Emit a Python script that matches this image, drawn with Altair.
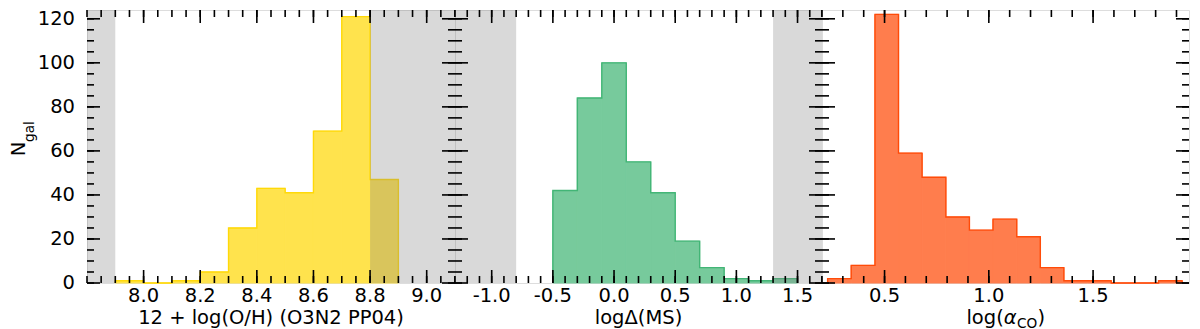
import altair as alt
import numpy as np
import pandas as pd

# ---------------- data ----------------
oh_edges = [7.9, 8.0, 8.1, 8.2, 8.3, 8.4, 8.5, 8.6, 8.7, 8.8, 8.9]
oh_counts = [1, 0, 1, 5, 25, 43, 41, 69, 121, 47]
oh_domain = [7.8, 9.1]
oh_shade_lo = [7.8, 8.8]
oh_shade_hi = [7.9, 9.1]
oh_major = [8.0, 8.2, 8.4, 8.6, 8.8, 9.0]
oh_minor_step = 0.05
oh_title = "12 + log(O/H) (O3N2 PP04)"

ms_edges = [-0.5, -0.3, -0.1, 0.1, 0.3, 0.5, 0.7, 0.9, 1.1, 1.3, 1.5]
ms_counts = [42, 84, 100, 55, 41, 19, 7, 2, 1, 2]
ms_domain = [-1.3, 1.7]
ms_shade_lo = [-1.3, 1.3]
ms_shade_hi = [-0.8, 1.7]
ms_major = [-1.0, -0.5, 0.0, 0.5, 1.0, 1.5]
ms_minor_step = 0.1
ms_title = "logΔ(MS)"

aco_edges = [0.227, 0.340, 0.454, 0.567, 0.680, 0.794, 0.907, 1.020,
             1.134, 1.247, 1.360, 1.474, 1.587, 1.700, 1.814, 1.927]
aco_counts = [2, 8, 122, 59, 48, 30, 24, 29, 21, 7, 1, 1, 0, 0, 1]
aco_domain = [0.2, 1.96]
aco_major = [0.5, 1.0, 1.5]
aco_minor_step = 0.1

y_domain = [0, 124]
y_major = [0, 20, 40, 60, 80, 100, 120]
y_minor_step = 5

FONT = "DejaVu Sans"
FS = 19.5
SUB = 13.65
H = 273
MAJ = 13
MIN = 7
LW = 1.6


def minor_ticks(domain, step):
    return [round(v, 4) for v in np.arange(domain[0], domain[1] + 1e-9, step)]


def panel(edges, counts, domain, shade_lo, shade_hi, major, minor_step,
          fill_color, line_color, width, show_y, title_layers):
    xs = alt.Scale(domain=domain, nice=False, zero=False)
    ys = alt.Scale(domain=y_domain, nice=False, zero=True)

    bars_df = pd.DataFrame({"x0": edges[:-1], "x1": edges[1:], "n": counts})
    # step-histogram outline vertices built from edges and counts
    vx, vy = [edges[0]], [0]
    for i, c in enumerate(counts):
        vx += [edges[i], edges[i + 1]]
        vy += [c, c]
    vx.append(edges[-1])
    vy.append(0)
    step_df = pd.DataFrame({"x": vx, "n": vy, "i": list(range(len(vx)))})

    fill = alt.Chart(bars_df).mark_rect(fill=fill_color, stroke=fill_color,
                                         strokeWidth=1).encode(
        x=alt.X("x0:Q", scale=xs, axis=None),
        x2="x1:Q",
        y=alt.Y("n:Q", scale=ys, axis=None),
        y2=alt.datum(0),
    )
    outline = alt.Chart(step_df).mark_line(color=line_color, strokeWidth=1.4,
                                            opacity=0.9).encode(
        x=alt.X("x:Q", scale=xs, axis=None),
        y=alt.Y("n:Q", scale=ys, axis=None),
        order="i:Q",
    )
    layers = [fill, outline]
    if shade_lo:
        sh_df = pd.DataFrame({"a": shade_lo, "b": shade_hi})
        layers.append(alt.Chart(sh_df).mark_rect(color="#808080", opacity=0.3).encode(
            x=alt.X("a:Q", scale=xs, axis=None), x2="b:Q",
            y=alt.value(0), y2=alt.value(H)))

    xmaj = pd.DataFrame({"v": major, "lab": [f"{v:.1f}" for v in major]})
    xmin = pd.DataFrame({"v": minor_ticks(domain, minor_step)})
    ymaj = pd.DataFrame({"v": y_major, "lab": [str(v) for v in y_major]})
    ymin = pd.DataFrame({"v": minor_ticks(y_domain, y_minor_step)})

    def xt(df, y0, y1):
        return alt.Chart(df).mark_rule(color="black", strokeWidth=LW).encode(
            x=alt.X("v:Q", scale=xs, axis=None), y=alt.value(y0), y2=alt.value(y1))

    def yt(df, x0, x1):
        return alt.Chart(df).mark_rule(color="black", strokeWidth=LW).encode(
            y=alt.Y("v:Q", scale=ys, axis=None), x=alt.value(x0), x2=alt.value(x1))

    layers += [
        xt(xmaj, H, H - MAJ), xt(xmin, H, H - MIN),
        xt(xmaj, 0, MAJ), xt(xmin, 0, MIN),
        yt(ymaj, 0, MAJ), yt(ymin, 0, MIN),
        yt(ymaj, width, width - MAJ), yt(ymin, width, width - MIN),
    ]
    # tick labels
    layers.append(alt.Chart(xmaj).mark_text(
        font=FONT, fontSize=FS, color="black", align="center", baseline="top").encode(
        x=alt.X("v:Q", scale=xs, axis=None), y=alt.value(H + 4), text="lab:N"))
    if show_y:
        layers.append(alt.Chart(ymaj).mark_text(
            font=FONT, fontSize=FS, color="black", align="right", baseline="middle").encode(
            y=alt.Y("v:Q", scale=ys, axis=None), x=alt.value(-12), text="lab:N"))
    layers += title_layers
    return alt.layer(*layers).properties(width=width, height=H)


def txt(s, x, y, size=FS, align="center", baseline="alphabetic", angle=None,
        style="normal"):
    kw = dict(font=FONT, fontSize=size, align=align, baseline=baseline,
              color="black", fontStyle=style)
    enc = dict(x=alt.value(x), y=alt.value(y), text="t:N")
    if angle is not None:
        enc["angle"] = alt.value(angle)
    return alt.Chart(pd.DataFrame({"t": [s]})).mark_text(**kw).encode(**enc)


W1, W2, W3 = 368, 367, 367
TB = H + 41

t1 = [txt(oh_title, W1 / 2, TB),
      txt("N", -68, 139, angle=270, baseline="middle"),
      txt("gal", -57, 121.5, size=SUB, angle=270, baseline="middle")]
t2 = [txt(ms_title, W2 / 2, TB)]
t3 = [txt("log(", 181.8, TB, align="right"),
      txt("α", 181.8, TB, align="left", style="italic"),
      txt("CO", 195.0, TB + 4, size=SUB, align="left"),
      txt(")", 215.5, TB, align="left")]

p1 = panel(oh_edges, oh_counts, oh_domain, oh_shade_lo, oh_shade_hi, oh_major,
           oh_minor_step, "#FFE34D", "#FFD700", W1, True, t1)
p2 = panel(ms_edges, ms_counts, ms_domain, ms_shade_lo, ms_shade_hi, ms_major,
           ms_minor_step, "#77CA9C", "#3CB371", W2, False, t2)
p3 = panel(aco_edges, aco_counts, aco_domain, [], [], aco_major,
           aco_minor_step, "#FF7D4D", "#FF4500", W3, False, t3)

chart = alt.hconcat(p1, p2, p3, spacing=0, bounds="flush").properties(
    padding=0
).configure_view(stroke="black", strokeWidth=LW).configure(font=FONT)

chart.save("out.html", embed_options={"renderer": "svg", "actions": False})
